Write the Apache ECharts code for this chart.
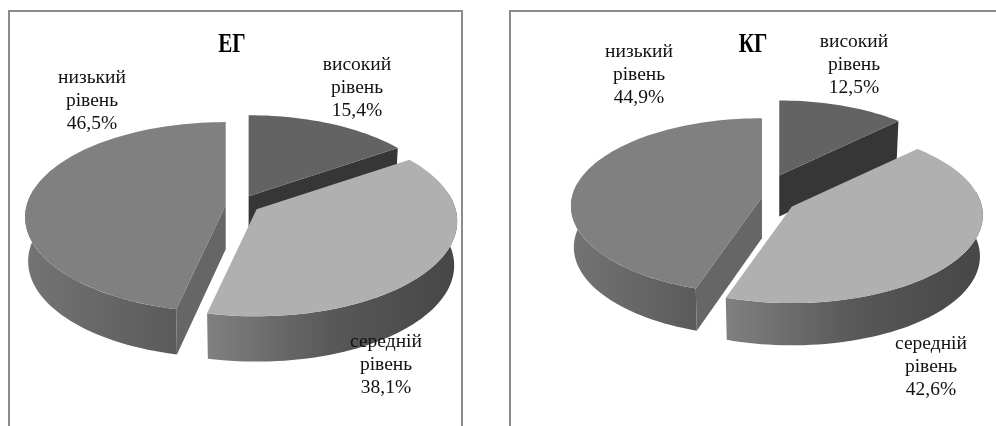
<!DOCTYPE html>
<html>
<head>
<meta charset="utf-8">
<style>html,body{margin:0;padding:0;background:#fff}#chart{width:996px;height:426px}</style>
<script src="https://cdn.jsdelivr.net/npm/echarts@6/dist/echarts.min.js"></script>
</head>
<body>
<div id="chart"></div>
<script>
// Share of students per level, in percent, for the two groups
const levelNames = ['високий', 'середній', 'низький'];
const levelWord = 'рівень';
const egValues = [15.4, 38.1, 46.5];
const kgValues = [12.5, 42.6, 44.9];
const groupTitles = ['ЕГ', 'КГ'];

// Slice paint: top face, cut face and the outer wall's left-to-right ramp
const sliceStyles = [
  { top: '#636363', cut: '#363636', wall: ['#4a4a4a', '#3a3a3a'] },
  { top: '#b0b0b0', cut: '#8a8a8a', wall: ['#808080', '#585858', '#464646'] },
  { top: '#808080', cut: '#666666', wall: ['#747474', '#5a5a5a'] }
];

// Projection of each tilted pie and where its labels sit
const panels = [
  {
    values: egValues, cx: 241, cy: 205, rx: 199, ry: 93.5, persp: 0.126,
    explode: 16.4, depth: 44, nudge: [[0, -2], [2, 0], [1, 1]], sliceScale: [0.975, 1, 1],
    labels: [[357, 65], [386, 342], [92, 78]], frame: [9, 462], titleX: 232
  },
  {
    values: kgValues, cx: 777, cy: 198.5, rx: 190, ry: 87, persp: 0.1,
    explode: 16.3, depth: 41, nudge: [[-4, -16], [1, 4], [1, 0]], sliceScale: [0.95, 1, 1],
    labels: [[854, 42], [931, 344], [639, 52]], frame: [510, 1000], titleX: 753
  }
];
const RAD = Math.PI / 180;
const FONT = '"Liberation Serif", "Times New Roman", serif';

function topPoint(pn, ax, ay, deg) {
  const s = Math.sin(deg * RAD), yv = -Math.cos(deg * RAD);
  const p = 1 / (1 - pn.persp * yv);
  return [ax + pn.rx * s * p, ay + pn.ry * yv * p];
}
function basePoint(pn, ax, ay, deg) {
  const t = topPoint(pn, ax, ay, deg), yv = -Math.cos(deg * RAD);
  return [ax + (t[0] - ax) * 0.985, t[1] + pn.depth * (1 + 0.03 * yv)];
}
function arc(fn, pn, ax, ay, from, to) {
  const pts = [], n = Math.max(2, Math.ceil(Math.abs(to - from) / 2));
  for (let i = 0; i <= n; i++) pts.push(fn(pn, ax, ay, from + (to - from) * i / n));
  return pts;
}
function ramp(stops) {
  return new echarts.graphic.LinearGradient(0, 0, 1, 0, stops.map((c, i) => ({
    offset: i / (stops.length - 1), color: c
  })));
}

function renderSlice(pn, params) {
  const i = params.dataIndex, style = sliceStyles[i];
  const before = pn.values.slice(0, i).reduce((a, b) => a + b, 0);
  const start = before * 3.6, end = (before + pn.values[i]) * 3.6, mid = (start + end) / 2;
  const ax = pn.cx + pn.explode * Math.sin(mid * RAD) + pn.nudge[i][0];
  const ay = pn.cy - pn.explode * Math.cos(mid * RAD) * pn.ry / pn.rx + pn.nudge[i][1];
  const geo = Object.assign({}, pn, { rx: pn.rx * pn.sliceScale[i], ry: pn.ry * pn.sliceScale[i] });
  const children = [];

  // Outer wall, limited to the part of the rim that faces the viewer
  const w0 = Math.max(start, 80), w1 = Math.min(end, 280);
  if (w1 > w0) {
    const pts = arc(topPoint, geo, ax, ay, w0, w1).concat(arc(basePoint, geo, ax, ay, w1, w0));
    children.push({ type: 'polygon', shape: { points: pts }, style: { fill: ramp(style.wall) } });
  }
  // Cut faces that turn toward the viewer
  const apexBase = [ax, ay + geo.depth];
  [[end, Math.sin(end * RAD)], [start, -Math.sin(start * RAD)]].forEach(([deg, facing]) => {
    if (facing > 0.01) {
      children.push({
        type: 'polygon',
        shape: { points: [[ax, ay], topPoint(geo, ax, ay, deg), basePoint(geo, ax, ay, deg), apexBase] },
        style: { fill: style.cut }
      });
    }
  });
  // Top face
  children.push({
    type: 'polygon',
    shape: { points: [[ax, ay]].concat(arc(topPoint, geo, ax, ay, start, end)) },
    style: { fill: style.top }
  });
  // Three-line data label
  const pos = pn.labels[i];
  const pct = pn.values[i].toFixed(1).replace('.', ',') + '%';
  [levelNames[i], levelWord, pct].forEach((line, k) => {
    children.push({
      type: 'text', z2: 10,
      style: {
        x: pos[0], y: pos[1] + k * 23, text: line, fill: '#111',
        font: '19.5px ' + FONT, align: 'center', verticalAlign: 'middle'
      }
    });
  });
  return { type: 'group', children };
}

const chart = echarts.init(document.getElementById('chart'), null, { renderer: 'canvas' });
chart.setOption({
  animation: false,
  backgroundColor: '#ffffff',
  graphic: [
    // Panel frames run past the bottom of the page
    ...panels.map(pn => ({
      type: 'polyline', silent: true, z: -1,
      shape: { points: [[pn.frame[0], 430], [pn.frame[0], 11], [pn.frame[1], 11], [pn.frame[1], 430]] },
      style: { stroke: '#8c8c8c', lineWidth: 2, fill: null }
    })),
    // Group headings, set in a condensed bold serif
    ...panels.map((pn, i) => ({
      type: 'text', silent: true, z: 20, x: pn.titleX, y: 45, scaleX: 0.78,
      style: {
        text: groupTitles[i], fill: '#000', font: 'bold 27px ' + FONT,
        align: 'center', verticalAlign: 'middle'
      }
    }))
  ],
  series: panels.map(pn => ({
    type: 'custom',
    coordinateSystem: 'none',
    silent: true,
    data: pn.values.map((v, i) => ({ name: levelNames[i], value: v })),
    renderItem: (params) => renderSlice(pn, params)
  }))
});
</script>
</body>
</html>
